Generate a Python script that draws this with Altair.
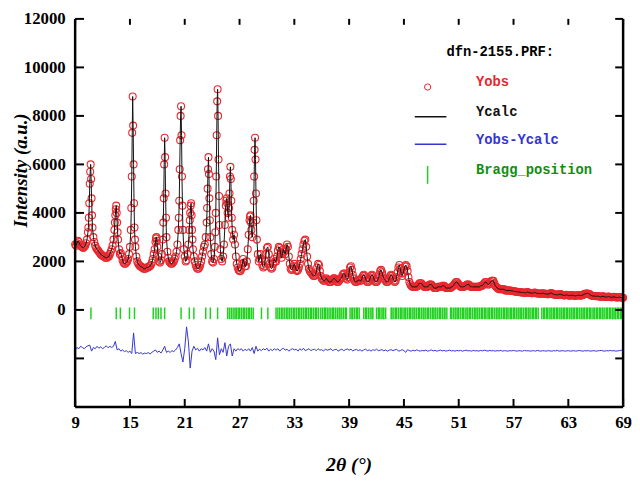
import altair as alt
import pandas as pd

# ---------------- data ----------------
TT_START, TT_STEP = 9.0, 0.1          # observed pattern, one value per 0.1 deg
y_obs = [
    2700, 2650, 2750, 2850, 2800, 2700, 2650, 2600, 2600, 2550,   # 9
    2600, 2650, 2750, 2900, 3200, 3800, 5200, 6000, 4600, 3400,   # 10
    3000, 2800, 2650, 2550, 2500, 2450, 2400, 2350, 2300, 2250,   # 11
    2250, 2200, 2200, 2150, 2150, 2150, 2200, 2200, 2300, 2400,   # 12
    2500, 2650, 2900, 3300, 3900, 4300, 3600, 2900, 2500, 2300,   # 13
    2350, 2200, 2050, 1950, 1900, 1900, 1950, 2000, 2100, 2300,   # 14
    2600, 3300, 5500, 8800, 6000, 3400, 2600, 2200, 2000, 1900,   # 15
    1850, 1800, 1800, 1750, 1750, 1700, 1700, 1700, 1750, 1750,   # 16
    1750, 1800, 1800, 1850, 1950, 2100, 2300, 2500, 2800, 3000,   # 17
    2600, 2200, 2000, 1950, 2050, 2300, 2900, 4600, 7100, 4800,   # 18
    3000, 2400, 2150, 2000, 1950, 1900, 1900, 1950, 2000, 2100,   # 19
    2200, 2400, 2700, 3300, 4500, 7000, 8400, 5500, 3300, 2500,   # 20
    2200, 2000, 2050, 2300, 2700, 3300, 4000, 4400, 3300, 2500,   # 21
    2200, 2000, 1850, 1750, 1700, 1700, 1750, 1850, 2000, 2200,   # 22
    2400, 2600, 2700, 3000, 3600, 5000, 6300, 4600, 3000, 2300,   # 23
    2000, 1950, 2100, 2600, 4000, 7200, 9100, 6200, 3500, 2500,   # 24
    2100, 2000, 2200, 2700, 3500, 4300, 4600, 4000, 3800, 4800,   # 25
    5900, 4500, 3300, 2900, 3100, 2700, 2200, 1900, 1750, 1650,   # 26
    1600, 1600, 1700, 1900, 2100, 1950, 1800, 1800, 2000, 2500,   # 27
    3100, 3700, 3900, 3300, 3000, 3600, 5500, 7100, 4800, 2900,   # 28
    2300, 2000, 2100, 2300, 2100, 1850, 1750, 1800, 2000, 2300,   # 29
    2550, 2600, 2300, 1900, 1750, 1700, 1750, 1900, 2100, 2000,   # 30
    2000, 2200, 2450, 2600, 2550, 2300, 2150, 2300, 2500, 2400,   # 31
    2300, 2500, 2700, 2600, 2200, 1900, 1700, 1650, 1700, 1800,   # 32
    1900, 1800, 1650, 1600, 1650, 1750, 1900, 2100, 2300, 2500,   # 33
    2700, 2850, 2900, 2600, 2200, 1900, 1700, 1600, 1550, 1500,   # 34
    1450, 1400, 1400, 1450, 1550, 1750, 1900, 1850, 1600, 1400,   # 35
    1300, 1250, 1200, 1200, 1250, 1300, 1250, 1200, 1150, 1150,   # 36
    1150, 1200, 1250, 1300, 1300, 1250, 1200, 1150, 1150, 1200,   # 37
    1250, 1300, 1350, 1450, 1500, 1500, 1400, 1300, 1250, 1350,   # 38
    1550, 1750, 1800, 1650, 1450, 1300, 1200, 1150, 1150, 1200,   # 39
    1200, 1250, 1200, 1200, 1300, 1400, 1450, 1400, 1300, 1200,   # 40
    1150, 1150, 1200, 1300, 1400, 1450, 1400, 1300, 1200, 1150,   # 41
    1150, 1200, 1300, 1450, 1600, 1650, 1550, 1400, 1300, 1250,   # 42
    1200, 1150, 1150, 1200, 1300, 1400, 1450, 1400, 1300, 1200,   # 43
    1150, 1200, 1350, 1550, 1750, 1850, 1700, 1500, 1400, 1500,   # 44
    1650, 1800, 1850, 1800, 1600, 1350, 1150, 1050, 1000, 950,    # 45
    950, 950, 950, 950, 950, 1000, 1050, 1100, 1100, 1100,        # 46
    1050, 1000, 950, 950, 950, 950, 950, 1000, 1050, 1050,        # 47
    1050, 1000, 950, 900, 900, 900, 900, 950, 950, 950,           # 48
    950, 950, 1000, 1000, 1000, 950, 900, 900, 900, 900,          # 49
    900, 900, 950, 950, 1000, 1050, 1100, 1150, 1150, 1100,       # 50
    1050, 1000, 950, 950, 950, 950, 950, 1000, 1000, 1050,        # 51
    1050, 1050, 1000, 950, 950, 950, 950, 950, 950, 950,          # 52
    950, 950, 950, 950, 1000, 1000, 1000, 1050, 1100, 1150,       # 53
    1150, 1100, 1050, 1050, 1100, 1150, 1200, 1200, 1200, 1100,   # 54
    1000, 950, 900, 900, 850, 850, 850, 850, 850, 850,            # 55
    850, 800, 800, 800, 800, 800, 800, 800, 780, 780,             # 56
    780, 760, 760, 750, 750, 740, 740, 730, 730, 720,             # 57
    720, 720, 710, 700, 720, 740, 730, 710, 700, 700,             # 58
    690, 690, 700, 720, 710, 690, 680, 680, 680, 670,             # 59
    670, 680, 690, 680, 670, 660, 660, 650, 650, 660,             # 60
    680, 700, 690, 660, 640, 630, 630, 620, 620, 630,             # 61
    640, 650, 640, 620, 610, 600, 600, 610, 620, 610,             # 62
    600, 590, 590, 600, 610, 600, 590, 580, 580, 590,             # 63
    600, 610, 600, 590, 590, 600, 620, 640, 660, 670,             # 64
    680, 680, 670, 650, 620, 600, 580, 570, 570, 570,             # 65
    560, 560, 570, 560, 550, 540, 540, 550, 560, 550,             # 66
    540, 530, 530, 540, 550, 540, 530, 520, 520, 530,             # 67
    540, 530, 520, 510, 510, 520, 530, 520, 510, 500,             # 68
    500,                                                          # 69
]

# extra observed points on the flanks of the sharp reflections (half steps)
flank_tt = [
    10.45, 10.55, 10.65, 10.75, 10.85,
    13.35, 13.45, 13.55, 13.65,
    15.15, 15.25, 15.35, 15.45, 15.55,
    17.85, 17.95,
    18.65, 18.75, 18.85, 18.95,
    20.35, 20.45, 20.55, 20.65, 20.75,
    21.55, 21.65, 21.75, 21.85,
    23.45, 23.55, 23.65, 23.75,
    24.35, 24.45, 24.55, 24.65, 24.75,
    25.55, 25.65,
    25.85, 25.95, 26.05, 26.15,
    28.15, 28.25,
    28.55, 28.65, 28.75, 28.85,
]
flank_y = [
    3400, 4400, 5700, 5400, 3900,
    3600, 4150, 4000, 3200,
    4200, 7300, 7600, 4400, 2900,
    2950, 2850,
    3600, 6000, 6300, 3800,
    3800, 5800, 8000, 7200, 4300,
    3700, 4300, 3900, 2900,
    4200, 5800, 5600, 3700,
    3200, 5500, 8600, 8000, 4700,
    4500, 4400,
    4200, 5500, 5400, 3800,
    3850, 3600,
    4500, 6600, 6200, 3700,
]

DIFF_START, DIFF_STEP = 9.0, 0.2      # Yobs - Ycalc, shifted down as in the picture
y_diff = [
    -1650, -1550, -1600, -1500, -1550, -1600, -1520, -1480, -1450, -1700,  # 9-10.8
    -1550, -1600, -1500, -1580, -1520, -1600, -1550, -1480, -1560, -1500,  # 11
    -1550, -1500, -1300, -1650, -1600, -1700, -1650, -1720, -1680, -1750,  # 13
    -1700, -1800, -950, -1800, -1750, -1800, -1760, -1820, -1780, -1800,   # 15
    -1760, -1820, -1750, -1700, -1650, -1750, -1700, -1780, -1650, -1500,  # 17
    -1750, -1700, -1750, -1680, -1720, -1650, -1550, -1400, -1800, -2150,  # 19
    -1600, -700, -1300, -2400, -1700, -1500, -1650, -1580, -1700, -1600,   # 21
    -1650, -1550, -1700, -1400, -1750, -1600, -1700, -2050, -1150, -1850,  # 23
    -1600, -1750, -1350, -1900, -1500, -1400, -1900, -1600, -1700, -1600,  # 25
    -1650, -1600, -1700, -1620, -1680, -1600, -1700, -1550, -1800, -1500,  # 27
    -1700, -1620, -1680, -1600, -1650, -1580, -1700, -1620, -1680, -1600,  # 29
    -1660, -1600, -1700, -1620, -1580, -1660, -1620, -1700, -1640, -1600,  # 31
    -1650, -1620, -1700, -1600, -1660, -1580, -1680, -1640, -1600, -1680,  # 33
    -1640, -1620, -1680, -1600, -1660, -1640, -1700, -1620, -1660, -1640,  # 35
    -1600, -1680, -1640, -1620, -1700, -1650, -1620, -1680, -1640, -1610,  # 37
    -1660, -1620, -1690, -1650, -1630, -1680, -1640, -1700, -1650, -1620,  # 39
    -1680, -1650, -1700, -1640, -1670, -1620, -1680, -1660, -1640, -1690,  # 41
    -1650, -1700, -1660, -1640, -1680, -1650, -1620, -1700, -1680, -1640,  # 43
    -1680, -1750, -1640, -1680, -1700, -1660, -1690, -1650, -1680, -1700,  # 45
    -1670, -1690, -1660, -1700, -1680, -1650, -1690, -1670, -1700, -1680,  # 47
    -1660, -1690, -1670, -1700, -1680, -1660, -1690, -1680, -1700, -1670,  # 49
    -1690, -1670, -1700, -1680, -1660, -1690, -1680, -1700, -1670, -1690,  # 51
    -1680, -1700, -1670, -1690, -1660, -1680, -1700, -1670, -1690, -1680,  # 53
    -1700, -1680, -1690, -1670, -1700, -1680, -1690, -1700, -1680, -1690,  # 55
    -1670, -1690, -1700, -1680, -1690, -1700, -1670, -1690, -1680, -1700,  # 57
    -1690, -1680, -1700, -1670, -1690, -1700, -1680, -1690, -1700, -1680,  # 59
    -1690, -1700, -1680, -1690, -1670, -1700, -1690, -1680, -1700, -1690,  # 61
    -1680, -1700, -1690, -1680, -1700, -1690, -1670, -1690, -1700, -1680,  # 63
    -1690, -1680, -1700, -1690, -1680, -1700, -1690, -1680, -1670, -1690,  # 65
    -1700, -1680, -1690, -1670, -1690, -1680, -1700, -1690, -1680, -1660,  # 67
    -1680,                                                                 # 69
]

bragg_positions = [
    10.73, 13.5, 13.95, 14.95, 15.5, 17.55, 17.85, 18.1, 18.4, 18.8,
    20.6, 21.5, 22.0, 23.3, 23.8, 24.6,
    25.7, 25.9, 26.1, 26.3, 26.5, 26.65, 26.85, 27.0, 27.2, 27.4, 27.55,
    27.75, 27.95, 28.1, 28.3, 28.5, 29.4, 30.1,
    31.0, 31.2, 31.4, 31.6, 31.75, 31.95, 32.15, 32.3, 32.5, 32.7, 32.9,
    33.05, 33.25, 33.45, 33.6, 33.8, 34.0, 34.2, 34.35, 34.55, 34.75, 34.9,
    35.1, 35.3, 35.45, 35.65, 35.9, 36.1, 36.3, 36.4, 36.6, 36.8, 37.0,
    37.2, 37.3, 37.5, 37.7, 37.9, 38.0, 38.2, 38.4, 38.6, 38.7, 39.1, 39.3,
    39.4, 39.6, 39.8, 39.9, 40.1, 40.6, 40.8, 40.9, 41.1, 41.3, 41.5, 41.6,
    42.0, 42.2, 42.3, 42.5, 42.7, 42.8, 43.0, 43.6, 43.7, 43.9, 44.1, 44.2,
    44.4, 44.6, 44.7, 44.9, 45.1, 45.2, 45.4, 45.6, 45.7, 45.9, 46.1, 46.2,
    46.4, 46.6, 46.7, 46.9, 47.1, 47.2, 47.4, 47.6, 47.7, 47.9, 48.1, 48.2,
    48.4, 48.5, 48.7, 48.9, 49.0, 49.2, 49.4, 49.5, 49.7, 50.1, 50.2, 50.4,
    50.6, 50.7, 50.9, 51.0, 51.2, 51.4, 51.5, 51.7, 51.9, 52.0, 52.2, 52.3,
    52.5, 52.7, 52.8, 53.0, 53.1, 53.3, 53.5, 53.6, 53.8, 53.9, 54.1, 54.3,
    54.4, 54.6, 54.7, 54.9, 55.1, 55.2, 55.4, 55.5, 55.7, 55.9, 56.0, 56.2,
    56.3, 56.5, 56.7, 56.8, 57.0, 57.1, 57.3, 57.5, 57.6, 57.8, 57.9, 58.1,
    58.3, 58.4, 58.6, 58.7, 58.9, 59.1, 59.2, 59.4, 59.5, 59.7, 60.1, 60.3,
    60.4, 60.6, 60.7, 60.9, 61.1, 61.2, 61.4, 61.5, 61.7, 61.8, 62.0, 62.2,
    62.3, 62.5, 62.6, 62.8, 62.9, 63.1, 63.3, 63.4, 63.6, 63.7, 63.9, 64.0,
    64.2, 64.4, 64.5, 64.7, 64.8, 65.0, 65.1, 65.3, 65.4, 65.6, 65.8, 65.9,
    66.1, 66.2, 66.4, 66.5, 66.7, 66.8, 67.0, 67.2, 67.3, 67.5, 67.6, 67.8,
    67.9, 68.1, 68.2, 68.4, 68.5, 68.7, 68.8,
]

x_tick_values = [9, 15, 21, 27, 33, 39, 45, 51, 57, 63, 69]
y_label_values = [0, 2000, 4000, 6000, 8000, 10000, 12000]
y_tick_values = [-2000, 0, 2000, 4000, 6000, 8000, 10000, 12000]

legend_title = "dfn-2155.PRF:"
legend_labels = ["Yobs", "Ycalc", "Yobs-Ycalc", "Bragg_position"]

# ---------------- styling ----------------
W, H = 555, 393
RED, BLACK, BLUE, GREEN, TXTGREEN = "#e8282f", "#111111", "#3434d2", "#1ed21e", "#0f8f0f"
legend_colors = [RED, BLACK, BLUE, TXTGREEN]
SERIF, MONO = "Liberation Serif", "Liberation Mono"

grid_tt = [round(TT_START + TT_STEP * i, 2) for i in range(len(y_obs))]
obs_df = pd.DataFrame({
    "tt": grid_tt + flank_tt,
    "y": y_obs + flank_y,
}).sort_values("tt").reset_index(drop=True)
diff_df = pd.DataFrame({
    "tt": [round(DIFF_START + DIFF_STEP * i, 2) for i in range(len(y_diff))],
    "y": y_diff,
})
bragg_df = pd.DataFrame({"tt": bragg_positions})
xt_df = pd.DataFrame({"tt": x_tick_values})
yt_df = pd.DataFrame({"y": y_tick_values})

xs = alt.Scale(domain=[9, 69], nice=False, zero=False)
ys = alt.Scale(domain=[-4000, 12000], nice=False, zero=False)

x_axis = alt.Axis(
    values=x_tick_values, format="d", ticks=False, domain=False, grid=False,
    labelFont=SERIF, labelFontSize=17, labelFontWeight="bold", labelColor="black",
    labelPadding=8, labelFlush=False,
    title="2θ  (°)", titleFont=SERIF, titleFontSize=20, titleFontStyle="italic",
    titleFontWeight="bold", titleColor="black", titleX=277, titleY=58,
    titleAlign="center", titleBaseline="middle",
)
y_axis = alt.Axis(
    values=y_label_values, format="d", ticks=False, domain=False, grid=False,
    labelFont=SERIF, labelFontSize=17, labelFontWeight="bold", labelColor="black",
    labelPadding=10, labelFlush=False,
    title="Intensity (a.u.)", titleFont=SERIF, titleFontSize=19, titleFontStyle="italic",
    titleFontWeight="bold", titleColor="black", titleX=-55, titleY=153,
    titleAngle=270, titleAlign="center", titleBaseline="middle",
)


def X(field):
    return alt.X(field, type="quantitative", scale=xs, axis=x_axis)


def Y(field):
    return alt.Y(field, type="quantitative", scale=ys, axis=y_axis)


obs_points = alt.Chart(obs_df).mark_point(
    shape="circle", filled=False, size=50, strokeWidth=1.1, color=RED, opacity=1
).encode(x=X("tt"), y=Y("y"))

calc_line = alt.Chart(obs_df).mark_line(color=BLACK, strokeWidth=1).encode(
    x=X("tt"), y=Y("y"))

diff_line = alt.Chart(diff_df).mark_line(color=BLUE, strokeWidth=1).encode(
    x=X("tt"), y=Y("y"))

bragg = alt.Chart(bragg_df).mark_rule(color=GREEN, strokeWidth=1.5).encode(
    x=X("tt"), y=alt.datum(100), y2=alt.datum(-380))

# frame (left, bottom, right) and inward ticks
frame = [
    alt.Chart(xt_df.head(1)).mark_rule(color="black", strokeWidth=2.5).encode(
        x=alt.value(0), y=alt.value(0), y2=alt.value(H)),
    alt.Chart(xt_df.head(1)).mark_rule(color="black", strokeWidth=2.5).encode(
        x=alt.value(W), y=alt.value(0), y2=alt.value(H)),
    alt.Chart(xt_df.head(1)).mark_rule(color="black", strokeWidth=2.5).encode(
        x=alt.value(0), x2=alt.value(W), y=alt.value(H)),
]
ticks = [
    alt.Chart(yt_df).mark_rule(color="black", strokeWidth=2).encode(
        y=Y("y"), x=alt.value(0), x2=alt.value(9)),
    alt.Chart(yt_df).mark_rule(color="black", strokeWidth=2).encode(
        y=Y("y"), x=alt.value(W - 8), x2=alt.value(W)),
    alt.Chart(xt_df).mark_rule(color="black", strokeWidth=2).encode(
        x=X("tt"), y=alt.value(H - 8), y2=alt.value(H)),
    alt.Chart(xt_df).mark_rule(color="black", strokeWidth=2).encode(
        x=X("tt"), y=alt.value(0), y2=alt.value(6)),
]

# legend block
LX_TEXT = 406
leg = []
leg.append(alt.Chart(pd.DataFrame({"t": [legend_title]})).mark_text(
    font=MONO, fontSize=14, fontWeight="bold", color="black", align="left", baseline="middle"
).encode(x=alt.value(376), y=alt.value(34), text="t:N"))
for lab, col, yy in zip(legend_labels, legend_colors, [64, 94, 123, 153]):
    leg.append(alt.Chart(pd.DataFrame({"t": [lab]})).mark_text(
        font=MONO, fontSize=14, fontWeight="bold", color=col, align="left", baseline="middle"
    ).encode(x=alt.value(LX_TEXT), y=alt.value(yy), text="t:N"))
one = pd.DataFrame({"k": [0]})
leg.append(alt.Chart(one).mark_point(shape="circle", filled=False, size=40, strokeWidth=1,
                                     color=RED, opacity=1).encode(
    x=alt.value(357), y=alt.value(69)))
leg.append(alt.Chart(one).mark_rule(color=BLACK, strokeWidth=1.5).encode(
    x=alt.value(344), x2=alt.value(376), y=alt.value(99)))
leg.append(alt.Chart(one).mark_rule(color=BLUE, strokeWidth=1.5).encode(
    x=alt.value(344), x2=alt.value(376), y=alt.value(127)))
leg.append(alt.Chart(one).mark_rule(color=GREEN, strokeWidth=1.5).encode(
    x=alt.value(357), y=alt.value(149), y2=alt.value(167)))

chart = alt.layer(
    bragg, diff_line, obs_points, calc_line, *ticks, *frame, *leg
).properties(
    width=W, height=H,
    autosize=alt.AutoSizeParams(type="none"),
    padding={"left": 68, "top": 8, "right": 9, "bottom": 72},
    background="white",
).configure_view(stroke=None)

chart.save("out.html", embed_options={"renderer": "svg", "actions": False})
